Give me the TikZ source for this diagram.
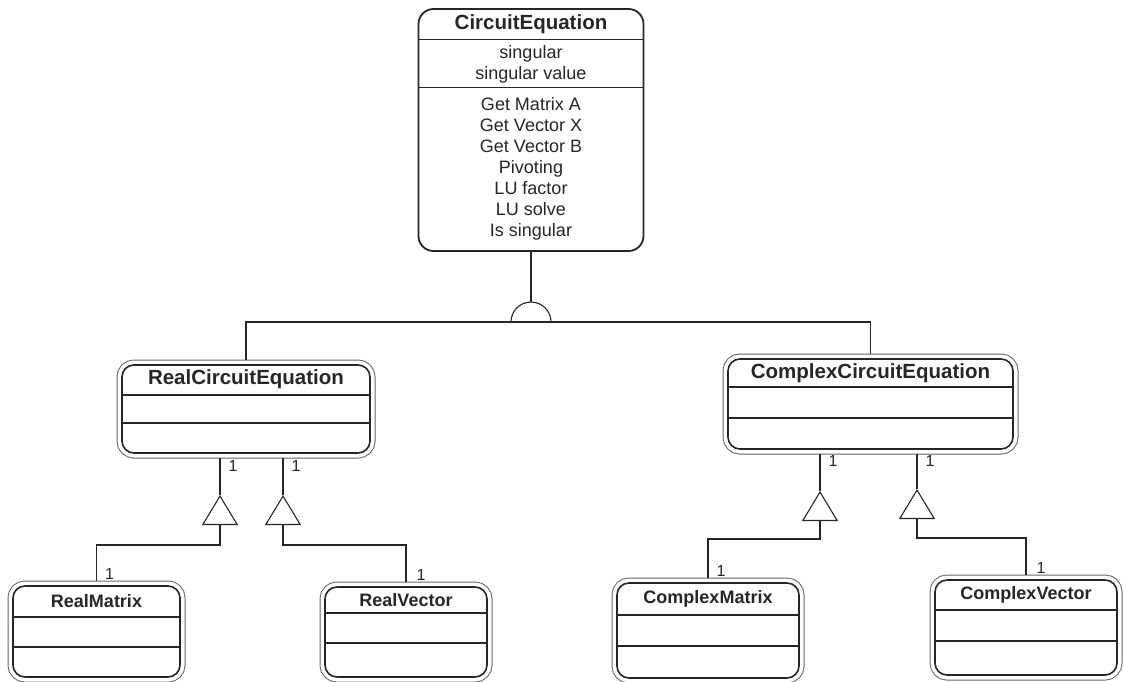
\documentclass[tikz,border=0pt]{standalone}
\usepackage{fontspec}
\setmainfont{Liberation Sans}
\usetikzlibrary{positioning, arrows.meta}

\begin{document}
\begin{tikzpicture}[x=1pt, y=-1pt, line width=1.1pt, black!85,
                    topcls/.style={rectangle, draw, line width=1.8pt, rounded corners=15pt, minimum width=225pt, minimum height=242pt},
                    cls/.style 2 args={rectangle, draw, line width=1.6pt, rounded corners=12pt, fill=white, outer sep=5pt,
                                       minimum width=#1, minimum height=#2,
                                       preaction={draw, line width=11pt, black!60},
                                       preaction={draw, line width=9pt, white}},
                    clsname/.style={font=\fontsize{20.5}{24}\selectfont\bfseries},
                    subname/.style={font=\fontsize{18}{21}\selectfont\bfseries},
                    entry/.style={font=\fontsize{18}{21}\selectfont, align=center},
                    mult/.style={font=\fontsize{16}{18}\selectfont, inner sep=1pt},
                    agg/.style={-{Triangle[open, length=30pt, width=36pt]}}]

    \useasboundingbox (0,0) rectangle (1124,681);

    % base class
    \node[topcls] (ce) at (531,130) {};
    \node[clsname] (ce-name) at (531,24) {CircuitEquation};
    \node[entry]   (ce-attr) at (531,64) {singular\\singular value};
    \node[entry]   (ce-ops)  at (531,169) {Get Matrix A\\Get Vector X\\Get Vector B\\Pivoting\\LU factor\\LU solve\\Is singular};
    \draw ([yshift=-31pt]ce.north west) -- ([yshift=-31pt]ce.north east)
          ([yshift=-79pt]ce.north west) -- ([yshift=-79pt]ce.north east);

    % derived classes
    \node[cls={248pt}{88pt}] (rce) at (246,409) {};
    \node[clsname] (rce-name) at ([yshift=-19pt]rce.north) {RealCircuitEquation};
    \node[cls={285pt}{90pt}] (cce) at (870.5,404) {};
    \node[clsname] (cce-name) at ([yshift=-19pt]cce.north) {ComplexCircuitEquation};

    % parts
    \node[cls={167pt}{91pt}] (rm) at (96.5,631.5) {};
    \node[subname] (rm-name) at ([yshift=-20pt]rm.north) {RealMatrix};
    \node[cls={162pt}{90pt}] (rv) at (406,632) {};
    \node[subname] (rv-name) at ([yshift=-18pt]rv.north) {RealVector};
    \node[cls={182pt}{95pt}] (cm) at (708,630.5) {};
    \node[subname] (cm-name) at ([yshift=-21pt]cm.north) {ComplexMatrix};
    \node[cls={182pt}{95pt}] (cv) at (1026,627.5) {};
    \node[subname] (cv-name) at ([yshift=-20pt]cv.north) {ComplexVector};

    \draw ([shift={(5pt,-35pt)}]rce.north west) -- ([shift={(-5pt,-35pt)}]rce.north east)
          ([shift={(5pt,-63pt)}]rce.north west) -- ([shift={(-5pt,-63pt)}]rce.north east);
    \draw ([shift={(5pt,-33pt)}]cce.north west) -- ([shift={(-5pt,-33pt)}]cce.north east)
          ([shift={(5pt,-64pt)}]cce.north west) -- ([shift={(-5pt,-64pt)}]cce.north east);
    \draw ([shift={(5pt,-36pt)}]rm.north west) -- ([shift={(-5pt,-36pt)}]rm.north east)
          ([shift={(5pt,-66pt)}]rm.north west) -- ([shift={(-5pt,-66pt)}]rm.north east);
    \draw ([shift={(5pt,-31pt)}]rv.north west) -- ([shift={(-5pt,-31pt)}]rv.north east)
          ([shift={(5pt,-61pt)}]rv.north west) -- ([shift={(-5pt,-61pt)}]rv.north east);
    \draw ([shift={(5pt,-37pt)}]cm.north west) -- ([shift={(-5pt,-37pt)}]cm.north east)
          ([shift={(5pt,-68pt)}]cm.north west) -- ([shift={(-5pt,-68pt)}]cm.north east);
    \draw ([shift={(5pt,-35pt)}]cv.north west) -- ([shift={(-5pt,-35pt)}]cv.north east)
          ([shift={(5pt,-66pt)}]cv.north west) -- ([shift={(-5pt,-66pt)}]cv.north east);

    % inheritance
    \coordinate (jn) at (531,322);
    \draw (ce.south) -- ([yshift=20pt]jn);
    \draw ([xshift=-20pt]jn) arc[start angle=180, end angle=360, radius=20];
    \draw (rce.north) |- (jn) -| (cce.north);

    % aggregations
    \coordinate (rm-tip) at (220,495);
    \coordinate (rv-tip) at (283,495);
    \coordinate (cm-tip) at (820,491);
    \coordinate (cv-tip) at (917,489);

    \draw[agg] (rm.north) node[mult, above right, xshift=7pt] (rm-m) {1} -- ++(0,-36) -| (rm-tip);
    \draw (rm-tip) -- (rm-tip |- rce.south) node[mult, below right, xshift=7pt, yshift=-1pt] (rce-m1) {1};
    \draw[agg] (rv.north) node[mult, above right, xshift=9pt] (rv-m) {1} -- ++(0,-37) -| (rv-tip);
    \draw (rv-tip) -- (rv-tip |- rce.south) node[mult, below right, xshift=7pt, yshift=-1pt] (rce-m2) {1};
    \draw[agg] (cm.north) node[mult, above right, xshift=7pt] (cm-m) {1} -- ++(0,-39) -| (cm-tip);
    \draw (cm-tip) -- (cm-tip |- cce.south) node[mult, below right, xshift=7pt] (cce-m1) {1};
    \draw[agg] (cv.north) node[mult, above right, xshift=9pt] (cv-m) {1} -- ++(0,-37) -| (cv-tip);
    \draw (cv-tip) -- (cv-tip |- cce.south) node[mult, below right, xshift=7pt] (cce-m2) {1};

\end{tikzpicture}
\end{document}
